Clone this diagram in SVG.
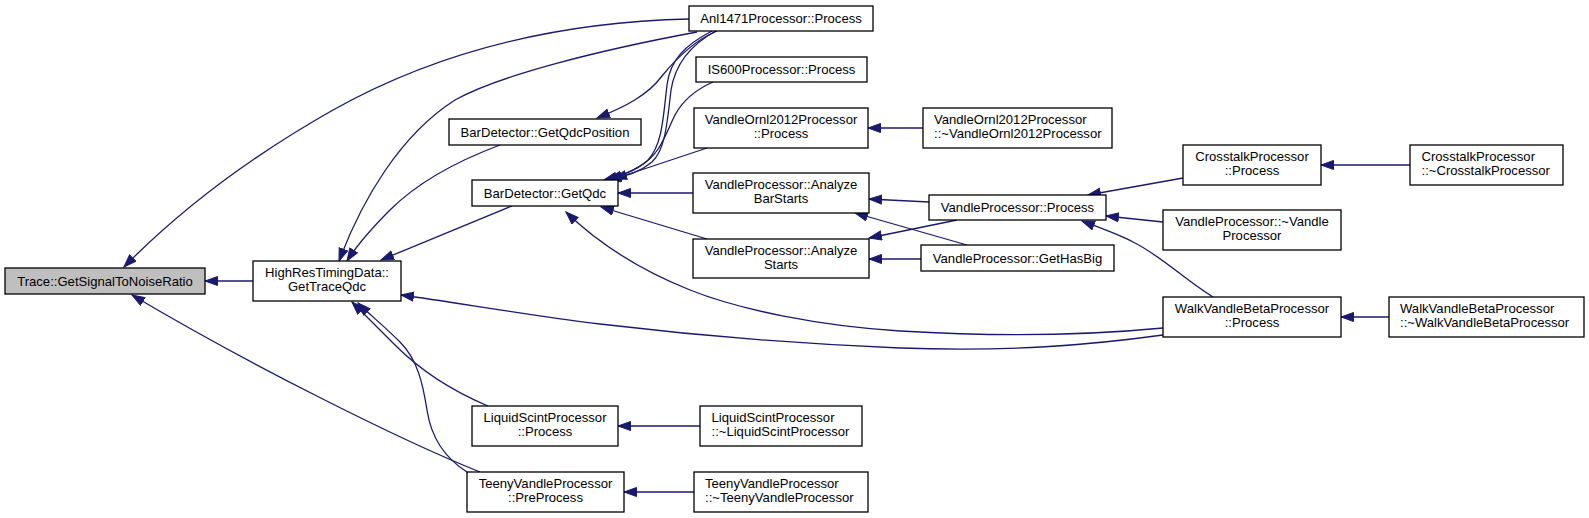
<svg xmlns="http://www.w3.org/2000/svg" width="1589" height="518" viewBox="0 0 1589 518">
<style>
.n rect{fill:#fff;stroke:#000;stroke-width:1.3}
.n.g rect{fill:#bfbfbf}
.n text{font-family:"Liberation Sans",Arial,sans-serif;font-size:13.1px;fill:#000;text-anchor:middle}
.n text.l{text-anchor:start}
#edges path{fill:none;stroke:#191970;stroke-width:1.3;marker-end:url(#ah)}
</style>
<defs>
<marker id="ah" markerUnits="userSpaceOnUse" markerWidth="16" markerHeight="12" refX="13" refY="5" orient="auto">
<path d="M0.5,0.5 L13,5 L0.5,9.5 Z" fill="#191970" stroke="#191970" stroke-width="1"/>
</marker>
</defs>
<rect width="1589" height="518" fill="#fff"/>
<g id="edges">
<path d="M253,281 L205,281"/>
<path d="M689,19 C560,22 440,50 333,110 C250,157 180,210 124,267"/>
<path d="M480,472 C400,440 250,365 132,295"/>
<path d="M697,32 C600,50 500,75 455,100 C400,135 362,200 339,261"/>
<path d="M500,145 C460,160 420,180 390,210 C370,230 357,245 347,261"/>
<path d="M512,206 L381,260"/>
<path d="M1163,335 C1090,345 1010,352 900,348 C800,344 700,336 600,324 C520,314 460,303 401,295"/>
<path d="M488,406 C450,390 420,370 395,345 C380,330 365,315 352,302"/>
<path d="M467,472 C440,455 430,430 427,410 C423,385 418,360 400,342 C385,327 368,313 358,303"/>
<path d="M717,31 C695,40 675,60 662,76 C648,95 625,107 597,118"/>
<path d="M712,31 C685,45 670,60 667,85 C663,120 662,145 648,160 C635,172 620,176 604,180"/>
<path d="M716,31 C690,45 675,65 671,90 C667,125 665,150 652,162 C640,172 625,177 609,179"/>
<path d="M713,82 C695,90 683,100 675,115 C665,135 660,155 640,166 C630,172 620,176 609,179"/>
<path d="M707,148 L614,179"/>
<path d="M693,193 L618,193"/>
<path d="M707,239 L601,207"/>
<path d="M1163,328 C1080,336 1000,337 900,331 C820,326 740,310 690,290 C640,270 600,245 566,212"/>
<path d="M923,128 L868,128"/>
<path d="M929,202 L869,199"/>
<path d="M957,220 L869,238"/>
<path d="M967,245 L855,213"/>
<path d="M921,259 L869,259"/>
<path d="M1183,178 L1088,195"/>
<path d="M1163,222 L1106,216"/>
<path d="M1213,297 C1185,280 1160,255 1133,242 C1118,234 1100,228 1082,221"/>
<path d="M1410,165 L1321,165"/>
<path d="M1389,317 L1341,317"/>
<path d="M700,426 L618,426"/>
<path d="M694,492 L624,492"/>
</g>
<g id="trace" class="n g"><rect x="5" y="268" width="200" height="26"/><text x="105" y="285.5">Trace::GetSignalToNoiseRatio</text></g>
<g id="hrtd" class="n"><rect x="253" y="261" width="148" height="40"/><text x="327" y="277">HighResTimingData::</text><text x="327" y="291">GetTraceQdc</text></g>
<g id="anl" class="n"><rect x="689" y="6" width="184" height="25"/><text x="781" y="23">Anl1471Processor::Process</text></g>
<g id="is600" class="n"><rect x="696" y="57" width="171" height="25"/><text x="781.5" y="74">IS600Processor::Process</text></g>
<g id="vo12p" class="n"><rect x="694" y="108" width="174" height="40"/><text x="781" y="124">VandleOrnl2012Processor</text><text x="781" y="138">::Process</text></g>
<g id="bdqp" class="n"><rect x="449" y="119" width="192" height="26"/><text x="545" y="136.5">BarDetector::GetQdcPosition</text></g>
<g id="bdq" class="n"><rect x="472" y="180" width="146" height="26"/><text x="545" y="197.5">BarDetector::GetQdc</text></g>
<g id="vpabs" class="n"><rect x="693" y="173" width="176" height="40"/><text x="781" y="189">VandleProcessor::Analyze</text><text x="781" y="203">BarStarts</text></g>
<g id="vpas" class="n"><rect x="693" y="239" width="176" height="39"/><text x="781" y="255">VandleProcessor::Analyze</text><text x="781" y="269">Starts</text></g>
<g id="lsp" class="n"><rect x="472" y="406" width="146" height="40"/><text x="545" y="422">LiquidScintProcessor</text><text x="545" y="436">::Process</text></g>
<g id="lsd" class="n"><rect x="700" y="406" width="162" height="40"/><text class="l" x="711.5" y="422">LiquidScintProcessor</text><text class="l" x="711.5" y="436">::~LiquidScintProcessor</text></g>
<g id="tvp" class="n"><rect x="467" y="472" width="157" height="40"/><text x="545.5" y="488">TeenyVandleProcessor</text><text x="545.5" y="502">::PreProcess</text></g>
<g id="tvd" class="n"><rect x="694" y="472" width="174" height="40"/><text class="l" x="705" y="488">TeenyVandleProcessor</text><text class="l" x="705" y="502">::~TeenyVandleProcessor</text></g>
<g id="vo12d" class="n"><rect x="923" y="108" width="189" height="40"/><text class="l" x="934" y="124">VandleOrnl2012Processor</text><text class="l" x="934" y="138">::~VandleOrnl2012Processor</text></g>
<g id="vpp" class="n"><rect x="929" y="195" width="177" height="25"/><text x="1017.5" y="212">VandleProcessor::Process</text></g>
<g id="vphb" class="n"><rect x="921" y="245" width="193" height="26"/><text x="1017.5" y="262.5">VandleProcessor::GetHasBig</text></g>
<g id="ctp" class="n"><rect x="1183" y="145" width="138" height="40"/><text x="1252" y="161">CrosstalkProcessor</text><text x="1252" y="175">::Process</text></g>
<g id="ctd" class="n"><rect x="1410" y="145" width="153" height="40"/><text class="l" x="1421.5" y="161">CrosstalkProcessor</text><text class="l" x="1421.5" y="175">::~CrosstalkProcessor</text></g>
<g id="vpd" class="n"><rect x="1163" y="210" width="178" height="40"/><text x="1252" y="226">VandleProcessor::~Vandle</text><text x="1252" y="240">Processor</text></g>
<g id="wvbp" class="n"><rect x="1163" y="297" width="178" height="40"/><text x="1252" y="313">WalkVandleBetaProcessor</text><text x="1252" y="327">::Process</text></g>
<g id="wvbd" class="n"><rect x="1389" y="297" width="195" height="40"/><text class="l" x="1400" y="313">WalkVandleBetaProcessor</text><text class="l" x="1400" y="327">::~WalkVandleBetaProcessor</text></g>
</svg>
